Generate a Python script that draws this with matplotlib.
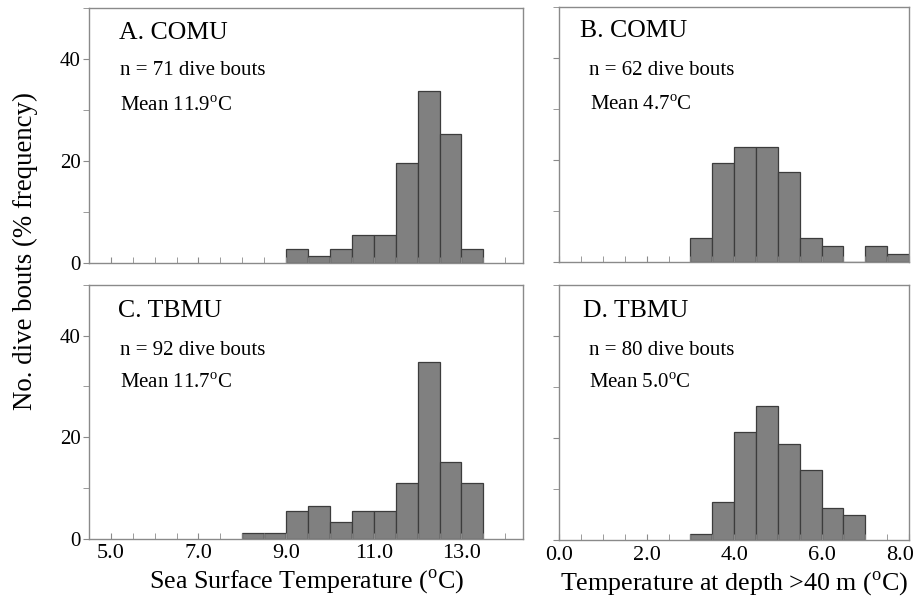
import numpy as np
import matplotlib
matplotlib.use('Agg')
import matplotlib.pyplot as plt
import matplotlib.transforms as mtransforms
from matplotlib.ticker import MultipleLocator

plt.rcParams['font.family'] = ['Liberation Serif', 'DejaVu Serif']
plt.rcParams['mathtext.fontset'] = 'custom'
plt.rcParams['mathtext.rm'] = 'Liberation Serif'

# bin starts (deg C) and % frequency for each panel
comu_sst_bins = [9.0, 9.5, 10.0, 10.5, 11.0, 11.5, 12.0, 12.5, 13.0]
comu_sst_pct = [2.8, 1.4, 2.8, 5.6, 5.6, 19.7, 33.8, 25.4, 2.8]

comu_deep_bins = [3.0, 3.5, 4.0, 4.5, 5.0, 5.5, 6.0, 6.5, 7.0, 7.5]
comu_deep_pct = [4.8, 19.4, 22.6, 22.6, 17.7, 4.8, 3.2, 0.0, 3.2, 1.6]

tbmu_sst_bins = [8.0, 8.5, 9.0, 9.5, 10.0, 10.5, 11.0, 11.5, 12.0, 12.5, 13.0]
tbmu_sst_pct = [1.1, 1.1, 5.4, 6.5, 3.3, 5.4, 5.4, 10.9, 34.8, 15.2, 10.9]

tbmu_deep_bins = [3.0, 3.5, 4.0, 4.5, 5.0, 5.5, 6.0, 6.5]
tbmu_deep_pct = [1.25, 7.5, 21.25, 26.25, 18.75, 13.75, 6.25, 5.0]

titles = ['A. COMU', 'B. COMU', 'C. TBMU', 'D. TBMU']
n_text = ['n = 71 dive bouts', 'n = 62 dive bouts', 'n = 92 dive bouts', 'n = 80 dive bouts']
mean_text = ['Mean 11.9', 'Mean 4.7', 'Mean 11.7', 'Mean 5.0']

W, H = 917, 599
fig = plt.figure(figsize=(W / 100, H / 100), dpi=100)


def box(l, r, t, b):
    return [l / W, 1 - b / H, (r - l) / W, (b - t) / H]


rects = [box(89.3, 523.3, 8, 263.3), box(559.3, 909, 7.3, 262.3),
         box(89.3, 523.3, 285, 538.7), box(559.3, 909, 285, 540)]
data = [(comu_sst_bins, comu_sst_pct), (comu_deep_bins, comu_deep_pct),
        (tbmu_sst_bins, tbmu_sst_pct), (tbmu_deep_bins, tbmu_deep_pct)]
# text positions in axes fraction: (title x, title y, n x, n y, mean x, mean y)
txt_pos = [(0.068, 0.879, 0.071, 0.737, 0.071, 0.597),
           (0.059, 0.885, 0.085, 0.735, 0.088, 0.597),
           (0.065, 0.875, 0.071, 0.724, 0.071, 0.594),
           (0.067, 0.876, 0.086, 0.725, 0.086, 0.596)]

spine_col = '#8a8a8a'
for i, (rect, (bins, pct)) in enumerate(zip(rects, data)):
    ax = fig.add_axes(rect)
    ax.bar(bins, pct, width=0.5, align='edge', color='#808080',
           edgecolor='#3c3c3c', linewidth=0.9)
    ax.set_ylim(0, 50)
    sst = i in (0, 2)
    if sst:
        ax.set_xlim(4.51, 14.41)
        ax.set_xticks([5, 7, 9, 11, 13])
        ax.set_xticklabels(['5.0', '7.0', '9.0', '11.0', '13.0'])
    else:
        ax.set_xlim(0, 8.0)
        ax.set_xticks([0, 2, 4, 6, 8])
        ax.set_xticklabels(['0.0', '2.0', '4.0', '6.0', '8.0'])
    ax.xaxis.set_minor_locator(MultipleLocator(0.5))
    ax.set_yticks([0, 20, 40])
    ax.yaxis.set_minor_locator(MultipleLocator(10))
    for s in ax.spines.values():
        s.set_color(spine_col)
        s.set_linewidth(1.0)
    ax.tick_params(axis='x', which='both', direction='in', length=4,
                   color=spine_col, labelsize=16, pad=4)
    ax.tick_params(axis='y', which='both', direction='out', length=4,
                   color=spine_col, labelsize=15, pad=2)
    if i < 2:
        ax.tick_params(axis='x', labelbottom=False)
    if i in (1, 3):
        ax.tick_params(axis='y', labelleft=False)
    if i == 3:
        # keep the last label inside the figure, like the original
        last = ax.get_xticklabels()[-1]
        last.set_transform(last.get_transform() +
                           mtransforms.ScaledTranslation(-9 / 100, 0, fig.dpi_scale_trans))
    tx, ty, nx, ny, mx, my = txt_pos[i]
    ax.text(tx, ty, titles[i], transform=ax.transAxes, fontsize=18.5, va='baseline')
    ax.text(nx, ny, n_text[i], transform=ax.transAxes, fontsize=15, va='baseline')
    ax.text(mx, my, mean_text[i] + r'$^{\mathrm{o}}$C', transform=ax.transAxes,
            fontsize=15, va='baseline')
    if i == 2:
        ax.set_xlabel(r'Sea Surface Temperature ($^{\mathrm{o}}$C)', fontsize=18.7, labelpad=3)
    if i == 3:
        ax.set_xlabel(r'Temperature at depth >40 m ($^{\mathrm{o}}$C)', fontsize=18.7, labelpad=3)

fig.text(25 / W, 1 - 251 / H, 'No. dive bouts (% frequency)', rotation=90,
         ha='center', va='center', fontsize=19.4)

fig.savefig('out.png', dpi=100)
